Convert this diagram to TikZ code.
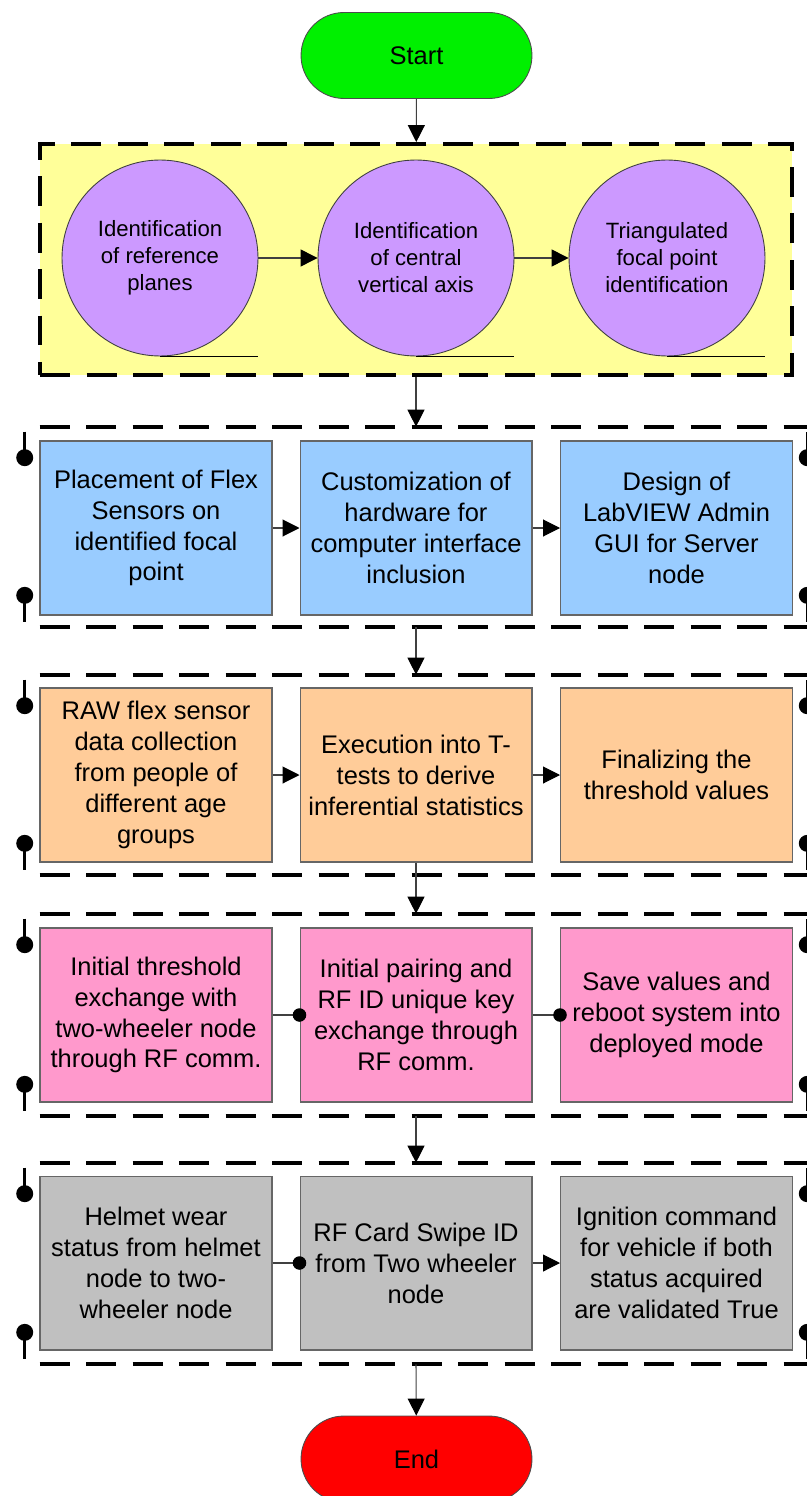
\documentclass[tikz,border=0pt]{standalone}
\usepackage{fontspec}
\setmainfont{Liberation Sans}
\usetikzlibrary{arrows.meta}
\definecolor{startgreen}{RGB}{0,240,0}
\definecolor{endred}{RGB}{255,0,0}
\definecolor{frameyellow}{RGB}{255,255,153}
\definecolor{circlepurple}{RGB}{204,153,255}
\definecolor{boxblue}{RGB}{153,204,255}
\definecolor{boxorange}{RGB}{255,204,153}
\definecolor{boxpink}{RGB}{255,153,204}
\definecolor{boxgray}{RGB}{192,192,192}
\begin{document}
\begin{tikzpicture}[
	x=0.02cm, y=-0.02cm,
	every node/.style={font=\fontsize{14.5}{17.6}\selectfont, align=center},
	terminal/.style={shape=rectangle, rounded corners=0.86cm, draw=black!70, line width=0.5pt, minimum width=4.62cm, minimum height=1.72cm},
	stepcircle/.style={shape=circle, fill=circlepurple, draw=black!75, line width=0.5pt, minimum size=3.92cm, inner sep=0pt, font=\fontsize{12.6}{15.4}\selectfont},
	taskbox/.style={shape=rectangle, draw=black!60, line width=0.6pt, minimum width=4.64cm, minimum height=3.48cm, inner sep=0pt},
	phase/.style={shape=rectangle, minimum width=15.64cm, inner sep=0pt},
	dashline/.style={line width=2.2pt, dash pattern=on 0.6cm off 0.33cm},
	sideline/.style={line width=1.8pt},
	flow/.style={draw=black!75, line width=0.6pt, -{Triangle[length=0.34cm,width=0.34cm,black]}},
	link/.style={draw=black!75, line width=0.6pt, -{Circle[length=0.27cm,black]}, shorten >=-0.135cm},
]
\useasboundingbox (0,0) rectangle (806,1496);

\node[terminal, fill=startgreen] (start) at (416.5,55.5) {Start};

% reference planes stage
\node[shape=rectangle, fill=frameyellow, draw=black, dashline, minimum width=15.04cm, minimum height=4.62cm] (planes) at (416,259.5) {};
\node[stepcircle] (refplanes) at (160,258) {Identification\\of reference\\planes};
\node[stepcircle] (centralaxis) at (416,258) {Identification\\of central\\vertical axis};
\node[stepcircle] (focalpoint) at (667,258) {Triangulated\\focal point\\identification};
\foreach \c in {refplanes,centralaxis,focalpoint}
	\draw[line width=0.6pt] (\c.south) -- (\c.south -| \c.east);

% phases
\node[phase, minimum height=4cm] (sensors) at (416,527) {};
\node[phase, minimum height=4cm] (thresholds) at (416,775) {};
\node[phase, minimum height=4.04cm] (pairing) at (416,1015) {};
\node[phase, minimum height=4.02cm] (ignition) at (416,1263.5) {};
\foreach \fr in {sensors,thresholds,pairing,ignition} {
	\draw[dashline] ([xshift=0.3cm]\fr.north west) -- ([xshift=0.2cm]\fr.north east);
	\draw[dashline] ([xshift=0.3cm]\fr.south west) -- ([xshift=0.2cm]\fr.south east);
	\foreach \side in {west,east} {
		\draw[sideline] ([yshift=-0.1cm]\fr.north \side) -- ([yshift=-0.62cm]\fr.north \side);
		\fill ([yshift=-0.62cm]\fr.north \side) circle (0.17cm);
		\draw[sideline] ([yshift=0.64cm]\fr.south \side) -- ([yshift=0.1cm]\fr.south \side);
		\fill ([yshift=0.64cm]\fr.south \side) circle (0.17cm);
	}
}

\node[taskbox, fill=boxblue] (placement) at (156,528) {Placement of Flex\\Sensors on\\identified focal\\point};
\node[taskbox, fill=boxblue] (customization) at (416,528) {Customization of\\hardware for\\computer interface\\inclusion};
\node[taskbox, fill=boxblue] (labview) at (676.5,528) {Design of\\LabVIEW Admin\\GUI for Server\\node};

\node[taskbox, fill=boxorange] (rawdata) at (156,775) {RAW flex sensor\\data collection\\from people of\\different age\\groups};
\node[taskbox, fill=boxorange] (ttests) at (416,775) {Execution into T-\\tests to derive\\inferential statistics};
\node[taskbox, fill=boxorange] (finalize) at (676.5,775) {Finalizing the\\threshold values};

\node[taskbox, fill=boxpink] (threshexch) at (156,1015) {Initial threshold\\exchange with\\two-wheeler node\\through RF comm.};
\node[taskbox, fill=boxpink] (pairingkey) at (416,1015) {Initial pairing and\\RF ID unique key\\exchange through\\RF comm.};
\node[taskbox, fill=boxpink] (savevalues) at (676.5,1015) {Save values and\\reboot system into\\deployed mode};

\node[taskbox, fill=boxgray] (helmetstatus) at (156,1263) {Helmet wear\\status from helmet\\node to two-\\wheeler node};
\node[taskbox, fill=boxgray] (cardswipe) at (416,1263) {RF Card Swipe ID\\from Two wheeler\\node};
\node[taskbox, fill=boxgray] (ignitioncmd) at (676.5,1263) {Ignition command\\for vehicle if both\\status acquired\\are validated True};

\node[terminal, fill=endred] (endnode) at (416.5,1459) {End};

% connectors
\draw[flow] (start) -- (planes);
\draw[flow] (refplanes) -- (centralaxis);
\draw[flow] (centralaxis) -- (focalpoint);
\draw[flow] (planes.south) -- (planes.south |- sensors.north);
\draw[flow] (placement) -- (customization);
\draw[flow] (customization) -- (labview);
\draw[flow] (sensors.south -| planes.south) -- (planes.south |- thresholds.north);
\draw[flow] (rawdata) -- (ttests);
\draw[flow] (ttests) -- (finalize);
\draw[flow] (ttests.south) -- (ttests.south |- pairing.north);
\draw[link] (threshexch) -- (pairingkey);
\draw[link] (pairingkey) -- (savevalues);
\draw[flow] (pairing.south -| planes.south) -- (planes.south |- ignition.north);
\draw[link] (helmetstatus) -- (cardswipe);
\draw[flow] (cardswipe) -- (ignitioncmd);
\draw[flow] (ignition.south -| planes.south) -- (endnode);
\end{tikzpicture}
\end{document}
